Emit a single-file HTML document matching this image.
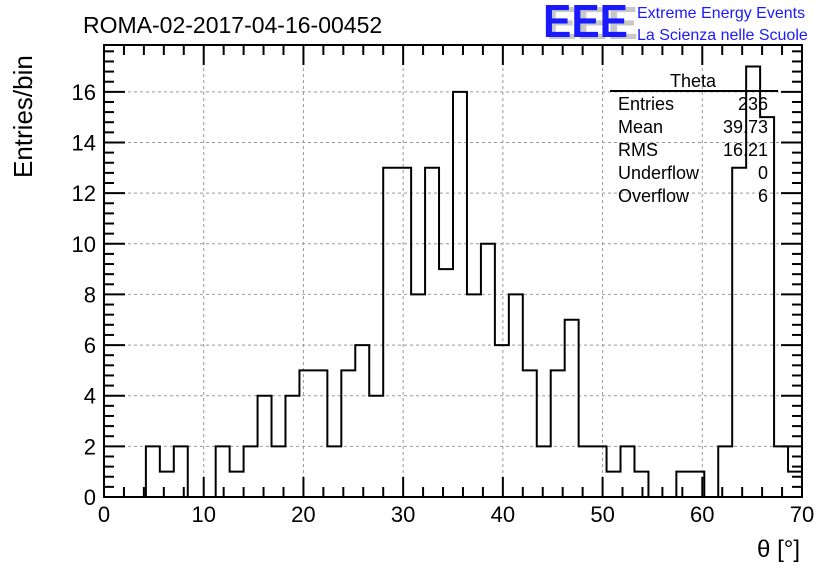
<!DOCTYPE html>
<html><head><meta charset="utf-8"><style>
body{margin:0;background:#fff;}
svg{display:block;font-family:"Liberation Sans",sans-serif;}
</style></head><body>
<svg id="c" width="836" height="572">
<text x="83" y="33" font-size="23">ROMA-02-2017-04-16-00452</text>
<g>
<text x="546" y="39" font-size="46" fill="#c8c8c8" font-weight="bold">EEE</text>
<text x="543" y="37" font-size="46" fill="#1a1aff" font-weight="bold" textLength="85" lengthAdjust="spacingAndGlyphs">EEE</text>
<text x="637" y="18" font-size="16" fill="#1a1aff">Extreme Energy Events</text>
<text x="637" y="40" font-size="16" fill="#1a1aff">La Scienza nelle Scuole</text>
</g>
<text transform="translate(32,178) rotate(-90)" font-size="26">Entries/bin</text>
<text x="800" y="557" font-size="24" text-anchor="end">θ [°]</text>
<g id="grid"></g><g id="ticks"></g><g id="hist"></g>
<rect x="104" y="45" width="698" height="452" fill="none" stroke="#000" stroke-width="2"/>
<g font-size="18">
<text x="693" y="87" text-anchor="middle">Theta</text>
<line x1="610" y1="91" x2="778" y2="91" stroke="#000" stroke-width="2"/>
<text x="618" y="110">Entries</text><text x="768" y="110" text-anchor="end">236</text>
<text x="618" y="133">Mean</text><text x="768" y="133" text-anchor="end">39.73</text>
<text x="618" y="156">RMS</text><text x="768" y="156" text-anchor="end">16.21</text>
<text x="618" y="179">Underflow</text><text x="768" y="179" text-anchor="end">0</text>
<text x="618" y="202">Overflow</text><text x="768" y="202" text-anchor="end">6</text>
</g>
</svg>
<script>
const binWidth = 1.4;
const counts = [0,0,0,2,1,2,0,0,2,1,2,4,2,4,5,5,2,5,6,4,13,13,8,13,9,16,8,10,6,8,5,2,5,7,2,2,1,2,1,0,0,1,1,0,2,13,17,15,2,1];
const xTicks = [0,10,20,30,40,50,60,70];
const yTicks = [0,2,4,6,8,10,12,14,16];
const X0=104,X1=802,Y0=497,Y1=45,XMAX=70,YMAX=17.85;
const sx=v=>X0+(v/XMAX)*(X1-X0);
const sy=v=>Y0-(v/YMAX)*(Y0-Y1);
const NS='http://www.w3.org/2000/svg';
function mk(t,a,p){const e=document.createElementNS(NS,t);for(const k in a)e.setAttribute(k,a[k]);p.appendChild(e);return e;}
const grid=document.getElementById('grid'),ticks=document.getElementById('ticks'),hist=document.getElementById('hist');
xTicks.forEach(v=>{
  if(v>0&&v<XMAX){const g=mk('line',{x1:sx(v),x2:sx(v),y1:Y0,y2:Y1,stroke:'#999','stroke-dasharray':'3,3'},grid);
  
  }
  const t=mk('text',{x:sx(v),y:522,'font-size':22,'text-anchor':'middle'},ticks);t.textContent=v;
  
  
});
for(let v=0;v<=XMAX+0.01;v+=2){const L=(v%10===0)?20:10;
  mk('line',{x1:sx(v),x2:sx(v),y1:Y0,y2:Y0-L,stroke:'#000','stroke-width':2},ticks);
  mk('line',{x1:sx(v),x2:sx(v),y1:Y1,y2:Y1+L,stroke:'#000','stroke-width':2},ticks);}
yTicks.forEach(v=>{
  if(v>0){const g=mk('line',{x1:X0,x2:X1,y1:sy(v),y2:sy(v),stroke:'#999','stroke-dasharray':'3,3'},grid);
  
  }
  const t=mk('text',{x:96,y:sy(v)+8,'font-size':22,'text-anchor':'end'},ticks);t.textContent=v;
  
  
});
for(let i=0;i*0.4<=YMAX;i++){const v=i*0.4;const L=(i%5===0)?21:10;
  mk('line',{x1:X0,x2:X0+L,y1:sy(v),y2:sy(v),stroke:'#000','stroke-width':2},ticks);
  mk('line',{x1:X1,x2:X1-L,y1:sy(v),y2:sy(v),stroke:'#000','stroke-width':2},ticks);}
let d='M'+sx(0)+','+sy(0);
counts.forEach((c,i)=>{d+=' L'+sx(i*binWidth)+','+sy(c)+' L'+sx((i+1)*binWidth)+','+sy(c);});
d+=' L'+sx(counts.length*binWidth)+','+sy(0);
const p=mk('path',{d:d,fill:'none',stroke:'#000','stroke-width':2},hist);


</script>
</body></html>
